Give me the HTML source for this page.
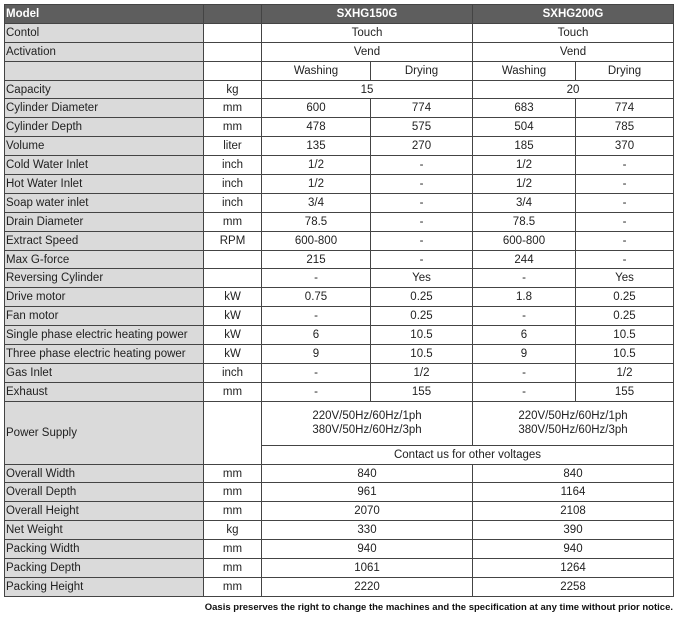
<!DOCTYPE html>
<html><head><meta charset="utf-8"><style>
html,body{margin:0;padding:0;background:#fff;width:676px;height:619px;overflow:hidden}
table{position:absolute;left:4px;top:4px;border-collapse:collapse;table-layout:fixed;font-family:"Liberation Sans",sans-serif;font-size:11.5px;color:#222}
td{border:1px solid #444;padding:0;text-align:center;height:17.9px;line-height:14px;white-space:nowrap;overflow:hidden}
td.l{text-align:left;background:#dadada;padding-left:1px}
tr.h td{background:#5e5e5e;color:#fff;font-weight:bold;font-size:11.5px}
.note{position:absolute;right:3px;top:602px;font-family:"Liberation Sans",sans-serif;font-weight:bold;font-size:9.5px;color:#111}
</style></head><body>
<table>
<colgroup><col style="width:199px"><col style="width:58px"><col style="width:109px"><col style="width:102px"><col style="width:103px"><col style="width:98px"></colgroup>
<tr class="h"><td class="l" style="background:#5e5e5e">Model</td><td></td><td colspan="2">SXHG150G</td><td colspan="2">SXHG200G</td></tr>
<tr><td class="l">Contol</td><td></td><td colspan="2">Touch</td><td colspan="2">Touch</td></tr>
<tr><td class="l">Activation</td><td></td><td colspan="2">Vend</td><td colspan="2">Vend</td></tr>
<tr><td class="l"></td><td></td><td>Washing</td><td>Drying</td><td>Washing</td><td>Drying</td></tr>
<tr><td class="l">Capacity</td><td>kg</td><td colspan="2">15</td><td colspan="2">20</td></tr>
<tr><td class="l">Cylinder Diameter</td><td>mm</td><td>600</td><td>774</td><td>683</td><td>774</td></tr>
<tr><td class="l">Cylinder Depth</td><td>mm</td><td>478</td><td>575</td><td>504</td><td>785</td></tr>
<tr><td class="l">Volume</td><td>liter</td><td>135</td><td>270</td><td>185</td><td>370</td></tr>
<tr><td class="l">Cold Water Inlet</td><td>inch</td><td>1/2</td><td>-</td><td>1/2</td><td>-</td></tr>
<tr><td class="l">Hot Water Inlet</td><td>inch</td><td>1/2</td><td>-</td><td>1/2</td><td>-</td></tr>
<tr><td class="l">Soap water inlet</td><td>inch</td><td>3/4</td><td>-</td><td>3/4</td><td>-</td></tr>
<tr><td class="l">Drain Diameter</td><td>mm</td><td>78.5</td><td>-</td><td>78.5</td><td>-</td></tr>
<tr><td class="l">Extract Speed</td><td>RPM</td><td>600-800</td><td>-</td><td>600-800</td><td>-</td></tr>
<tr><td class="l">Max G-force</td><td></td><td>215</td><td>-</td><td>244</td><td>-</td></tr>
<tr><td class="l">Reversing Cylinder</td><td></td><td>-</td><td>Yes</td><td>-</td><td>Yes</td></tr>
<tr><td class="l">Drive motor</td><td>kW</td><td>0.75</td><td>0.25</td><td>1.8</td><td>0.25</td></tr>
<tr><td class="l">Fan motor</td><td>kW</td><td>-</td><td>0.25</td><td>-</td><td>0.25</td></tr>
<tr><td class="l">Single phase electric heating power</td><td>kW</td><td>6</td><td>10.5</td><td>6</td><td>10.5</td></tr>
<tr><td class="l">Three phase electric heating power</td><td>kW</td><td>9</td><td>10.5</td><td>9</td><td>10.5</td></tr>
<tr><td class="l">Gas Inlet</td><td>inch</td><td>-</td><td>1/2</td><td>-</td><td>1/2</td></tr>
<tr><td class="l">Exhaust</td><td>mm</td><td>-</td><td>155</td><td>-</td><td>155</td></tr>
<tr><td class="l" rowspan="2">Power Supply</td><td rowspan="2"></td><td colspan="2" style="height:43px">220V/50Hz/60Hz/1ph<br>380V/50Hz/60Hz/3ph</td><td colspan="2">220V/50Hz/60Hz/1ph<br>380V/50Hz/60Hz/3ph</td></tr>
<tr><td colspan="4">Contact us for other voltages</td></tr>
<tr><td class="l">Overall Width</td><td>mm</td><td colspan="2">840</td><td colspan="2">840</td></tr>
<tr><td class="l">Overall Depth</td><td>mm</td><td colspan="2">961</td><td colspan="2">1164</td></tr>
<tr><td class="l">Overall Height</td><td>mm</td><td colspan="2">2070</td><td colspan="2">2108</td></tr>
<tr><td class="l">Net Weight</td><td>kg</td><td colspan="2">330</td><td colspan="2">390</td></tr>
<tr><td class="l">Packing Width</td><td>mm</td><td colspan="2">940</td><td colspan="2">940</td></tr>
<tr><td class="l">Packing Depth</td><td>mm</td><td colspan="2">1061</td><td colspan="2">1264</td></tr>
<tr><td class="l">Packing Height</td><td>mm</td><td colspan="2">2220</td><td colspan="2">2258</td></tr>
</table>
<div class="note">Oasis preserves the right to change the machines and the specification at any time without prior notice.</div>
</body></html>
